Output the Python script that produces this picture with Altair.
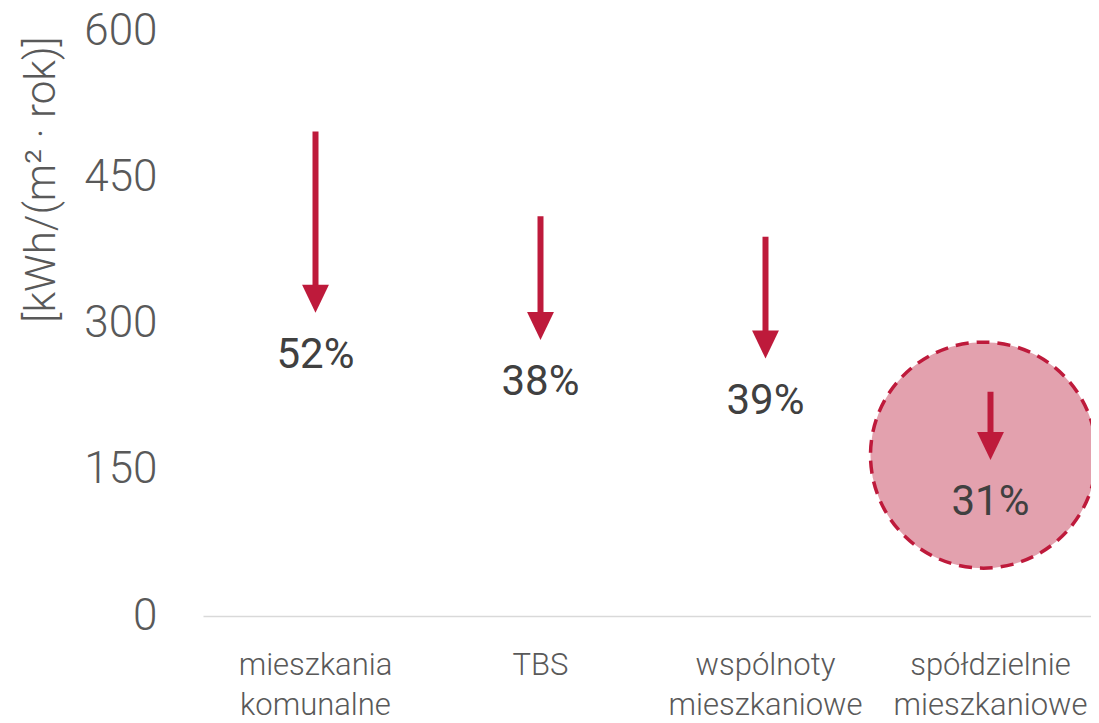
import altair as alt
import pandas as pd

categories = ["mieszkania komunalne", "TBS", "wspólnoty mieszkaniowe", "spółdzielnie mieszkaniowe"]
start_values = [497, 410, 389, 230]
end_values = [311, 283, 264, 160]
pct_labels = ["52%", "38%", "39%", "31%"]

highlight_category = ["spółdzielnie mieszkaniowe"]
highlight_value = [165]

y_ticks = [0, 150, 300, 450, 600]

FONT_AX = "Roboto"
RED = "#be1a3b"

df = pd.DataFrame({"cat": categories, "start": start_values, "end": end_values, "pct": pct_labels})
hl = pd.DataFrame({"cat": highlight_category, "v": highlight_value})

xscale = alt.Scale(domain=categories, range=[0, 900], paddingInner=0, paddingOuter=0)
yscale = alt.Scale(domain=[0, 600])

xaxis = alt.Axis(title=None, labelAngle=0, ticks=False, grid=False,
                 domainColor="#d9d9d9", domainWidth=1.5,
                 labelExpr="split(datum.label, ' ')", labelLimit=0,
                 labelFont=FONT_AX, labelFontWeight=300, labelFontSize=31,
                 labelLineHeight=40, labelPadding=34, labelColor="#595959")
yaxis = alt.Axis(title="[kWh/(m² · rok)]", values=y_ticks, grid=False, ticks=False, domain=False,
                 labelFont=FONT_AX, labelFontWeight=300, labelFontSize=44, labelColor="#595959",
                 labelPadding=46,
                 titleFont=FONT_AX, titleFontWeight=300, titleFontSize=42, titleColor="#595959",
                 titleAngle=270, titleX=-162, titleY=148, titleAlign="center", titleBaseline="middle")

circle = alt.Chart(hl).mark_point(
    shape="circle", size=226 * 226, filled=True, fill="#e3a1ae", fillOpacity=1, opacity=1,
    stroke=RED, strokeWidth=3.5, strokeDash=[13, 8], xOffset=-7
).encode(
    x=alt.X("cat:N", scale=xscale, axis=xaxis, sort=categories),
    y=alt.Y("v:Q", scale=yscale, axis=yaxis),
)

shaft = alt.Chart(df).mark_rule(color=RED, strokeWidth=6, y2Offset=-20).encode(
    x=alt.X("cat:N", scale=xscale, sort=categories),
    y=alt.Y("start:Q", scale=yscale),
    y2="end:Q",
)

head = alt.Chart(df).mark_point(
    shape="M-0.96,-1L0.96,-1L0,1Z", size=784, filled=True, color=RED, opacity=1, yOffset=-14
).encode(
    x=alt.X("cat:N", scale=xscale, sort=categories),
    y=alt.Y("end:Q", scale=yscale),
)

text = alt.Chart(df).mark_text(
    font=FONT_AX, fontSize=42, color="#404040", baseline="middle", align="center", dy=42
).encode(
    x=alt.X("cat:N", scale=xscale, sort=categories),
    y=alt.Y("end:Q", scale=yscale),
    text="pct:N",
)

chart = alt.layer(circle, shaft, head, text).properties(
    width=888, height=585,
    autosize=alt.AutoSizeParams(type="none"),
    padding={"left": 195, "top": 23, "right": 0, "bottom": 112},
).configure_view(stroke=None)

chart.save("out.html", embed_options={"renderer": "svg", "actions": False})
